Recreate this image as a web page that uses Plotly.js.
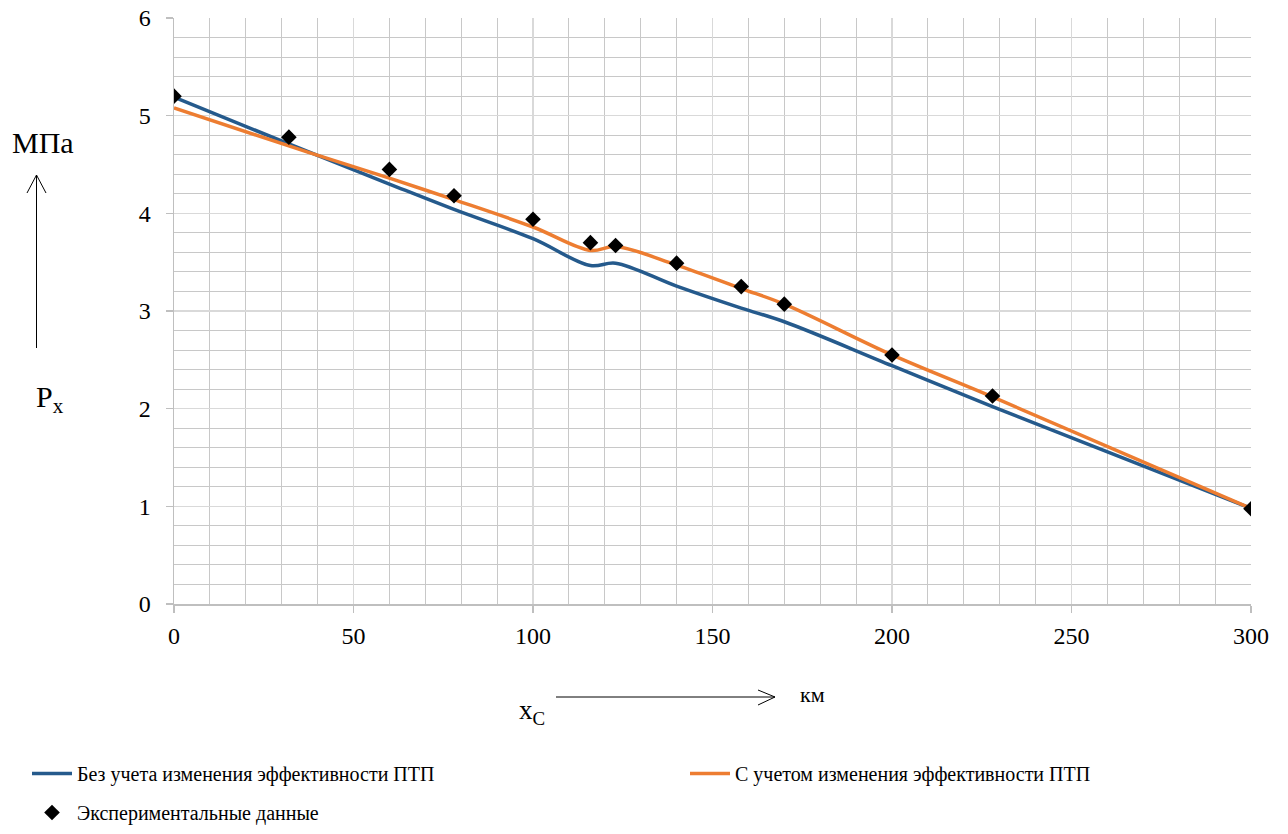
<!DOCTYPE html>
<html>
<head>
<meta charset="utf-8">
<script src="https://cdn.plot.ly/plotly-3.0.1.min.js"></script>
<style>html,body{margin:0;padding:0;background:#fff;}#chart{width:1288px;height:834px;}</style>
</head>
<body>
<div id="chart"></div>
<script>
// Distance along pipeline, km
const stations = [0, 32, 60, 78, 100, 116, 123, 140, 158, 170, 200, 228, 300];
// Pressure without accounting for change of efficiency (MPa)
const pressureNoEff = [5.19, 4.71, 4.30, 4.04, 3.74, 3.465, 3.49, 3.255, 3.03, 2.89, 2.44, 2.02, 0.98];
// Pressure accounting for change of efficiency (MPa)
const pressureEff = [5.08, 4.69, 4.36, 4.14, 3.86, 3.62, 3.66, 3.47, 3.23, 3.07, 2.55, 2.12, 0.98];
// Experimental data
const expX = [0, 32, 60, 78, 100, 116, 123, 140, 158, 170, 200, 228, 300];
const expY = [5.20, 4.78, 4.45, 4.18, 3.94, 3.70, 3.67, 3.49, 3.25, 3.07, 2.55, 2.13, 0.975];

const seriesNames = ['Без учета изменения эффективности ПТП', 'С учетом изменения эффективности ПТП', 'Экспериментальные данные'];
const xTicks = [0, 50, 100, 150, 200, 250, 300];
const yTicks = [0, 1, 2, 3, 4, 5, 6];

const W = 1288, H = 834;
const M = {l: 174, r: 37, t: 18, b: 230, autoexpand: false};
const PW = W - M.l - M.r, PH = H - M.t - M.b;
const px = v => (v - M.l) / PW;
const py = v => (M.t + PH - v) / PH;
const cx = v => v / W;
const cy = v => 1 - v / H;

const FONT = "'Liberation Serif', 'Times New Roman', serif";

const traces = [
  {x: stations, y: pressureNoEff, name: seriesNames[0], type: 'scatter', mode: 'lines',
   line: {color: '#255a8c', width: 3.5, shape: 'spline', smoothing: 1}, legend: 'legend'},
  {x: stations, y: pressureEff, name: seriesNames[1], type: 'scatter', mode: 'lines',
   line: {color: '#ed7d31', width: 3.5, shape: 'spline', smoothing: 1}, legend: 'legend3'},
  {x: expX, y: expY, name: seriesNames[2], type: 'scatter', mode: 'markers',
   marker: {symbol: 'diamond', size: 12, color: '#000000'}, legend: 'legend2'}
];

const arrowColor = '#000';
const shapes = [
  // up arrow
  {type: 'line', xref: 'paper', yref: 'paper', x0: px(36.5), x1: px(36.5), y0: py(348), y1: py(175), line: {color: arrowColor, width: 1}},
  {type: 'path', xref: 'paper', yref: 'paper',
   path: `M${px(27)},${py(193)} L${px(36.5)},${py(175)} L${px(46)},${py(193)}`, line: {color: arrowColor, width: 1}},
  // right arrow
  {type: 'line', xref: 'paper', yref: 'paper', x0: px(556), x1: px(775), y0: py(697), y1: py(697), line: {color: arrowColor, width: 1}},
  {type: 'path', xref: 'paper', yref: 'paper',
   path: `M${px(758)},${py(690)} L${px(775)},${py(697)} L${px(758)},${py(705)}`, line: {color: arrowColor, width: 1}}
];

const annotations = [
  {text: 'МПа', xref: 'paper', yref: 'paper', x: px(43), y: py(142), xanchor: 'center', yanchor: 'middle', showarrow: false, font: {family: FONT, size: 30, color: '#000'}},
  {text: 'P<sub>x</sub>', xref: 'paper', yref: 'paper', x: px(50), y: py(399), xanchor: 'center', yanchor: 'middle', showarrow: false, font: {family: FONT, size: 30, color: '#000'}},
  {text: 'x<sub>C</sub>', xref: 'paper', yref: 'paper', x: px(532), y: py(712), xanchor: 'center', yanchor: 'middle', showarrow: false, font: {family: FONT, size: 27, color: '#000'}},
  {text: 'км', xref: 'paper', yref: 'paper', x: px(812), y: py(694), xanchor: 'center', yanchor: 'middle', showarrow: false, font: {family: FONT, size: 22, color: '#000'}}
];

const legendBase = {
  orientation: 'h', xref: 'container', yref: 'container', xanchor: 'left', yanchor: 'top',
  itemwidth: 40,
  font: {family: FONT, size: 20, color: '#000'}, bgcolor: 'rgba(0,0,0,0)', borderwidth: 0
};

const layout = {
  width: W, height: H,
  margin: M,
  paper_bgcolor: '#fff', plot_bgcolor: '#fff',
  font: {family: FONT, size: 24, color: '#000'},
  showlegend: true,
  xaxis: {
    range: [0, 300], tickvals: xTicks, ticktext: xTicks.map(String),
    showgrid: true, gridcolor: '#d9d9d9', gridwidth: 1.5,
    minor: {dtick: 10, tick0: 0, showgrid: true, gridcolor: '#c8c8c8', gridwidth: 1, ticks: ''},
    showline: true, linecolor: '#bfbfbf', linewidth: 1.5,
    ticks: 'outside', ticklen: 7, tickcolor: '#bfbfbf', tickwidth: 1.5,
    ticklabelstandoff: 3,
    zeroline: false, fixedrange: true,
    tickfont: {family: FONT, size: 24, color: '#000'}
  },
  yaxis: {
    range: [0, 6], tickvals: yTicks, ticktext: yTicks.map(String),
    showgrid: true, gridcolor: '#d9d9d9', gridwidth: 1.5,
    minor: {dtick: 0.2, tick0: 0, showgrid: true, gridcolor: '#c8c8c8', gridwidth: 1, ticks: ''},
    showline: true, linecolor: '#bfbfbf', linewidth: 1.5,
    ticks: 'outside', ticklen: 7, tickcolor: '#bfbfbf', tickwidth: 1.5,
    ticklabelstandoff: 10,
    zeroline: false, fixedrange: true,
    tickfont: {family: FONT, size: 24, color: '#000'}
  },
  legend: Object.assign({}, legendBase, {x: cx(27), y: cy(754)}),
  legend3: Object.assign({}, legendBase, {x: cx(685), y: cy(754)}),
  legend2: Object.assign({}, legendBase, {x: cx(27), y: cy(793)}),
  shapes: shapes,
  annotations: annotations
};

Plotly.newPlot('chart', traces, layout, {displayModeBar: false, staticPlot: true});
</script>
</body>
</html>
